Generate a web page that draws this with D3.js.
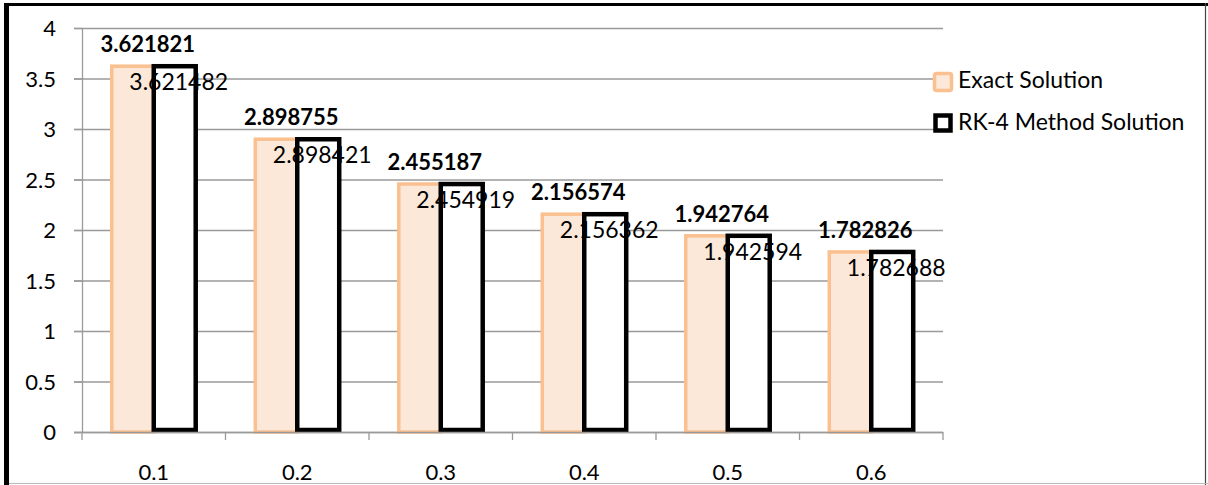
<!DOCTYPE html>
<html>
<head>
<meta charset="utf-8">
<script src="https://cdn.jsdelivr.net/npm/d3@7"></script>
<style>
  html, body { margin: 0; padding: 0; background: #fff; }
  svg { display: block; }
  text { font-family: Lato, "Open Sans", "Liberation Sans", sans-serif; fill: #000; }
</style>
</head>
<body>
<svg id="chart" width="1208" height="485"></svg>
<script>
// x categories (step size h)
const xLabels = ["0.1", "0.2", "0.3", "0.4", "0.5", "0.6"];
// exact solution values
const exactValues = [3.621821, 2.898755, 2.455187, 2.156574, 1.942764, 1.782826];
// RK-4 method solution values
const rk4Values = [3.621482, 2.898421, 2.454919, 2.156362, 1.942594, 1.782688];
// y axis tick values
const yTicks = [0, 0.5, 1, 1.5, 2, 2.5, 3, 3.5, 4];
// series names
const seriesNames = ["Exact Solution", "RK-4 Method Solution"];

const W = 1208, H = 485;
const plot = { left: 82, right: 943, top: 28, bottom: 432 };
const gridColor = "#9a9a9a";
const exactFill = "#fce8d9", exactStroke = "#fac090";

const svg = d3.select("#chart");

const x = d3.scaleBand().domain(xLabels).range([plot.left, plot.right]).paddingInner(0).paddingOuter(0);
const xs = d3.scaleBand().domain(seriesNames).range([0, x.bandwidth()]).paddingInner(0).paddingOuter(0.71);
const y = d3.scaleLinear().domain([0, 4]).range([plot.bottom, plot.top]);

// frame
svg.append("rect").attr("x", 4).attr("y", 3).attr("width", 5).attr("height", H - 3).attr("fill", "#000");
svg.append("rect").attr("x", 4).attr("y", 3).attr("width", W - 4).attr("height", 3).attr("fill", "#000");
svg.append("line").attr("x1", 1205.5).attr("x2", 1205.5).attr("y1", 3).attr("y2", H).attr("stroke", "#444").attr("stroke-width", 1.2);
svg.append("line").attr("x1", 9).attr("x2", W).attr("y1", 483.5).attr("y2", 483.5).attr("stroke", "#bbb").attr("stroke-width", 1);

// horizontal gridlines
const grid = svg.append("g")
  .attr("transform", `translate(${plot.left - 8},0)`)
  .call(d3.axisLeft(y).tickValues(yTicks).tickSizeInner(-(plot.right - plot.left + 8)).tickSizeOuter(0).tickFormat(""));
grid.select(".domain").remove();
grid.selectAll("line").attr("stroke", gridColor).attr("stroke-width", 1.3);

// bars
const rows = xLabels.map((c, i) => ({ cat: c, exact: exactValues[i], rk4: rk4Values[i] }));
const groups = svg.append("g").selectAll("g").data(rows).join("g")
  .attr("transform", d => `translate(${x(d.cat)},0)`);

groups.append("rect")
  .attr("x", xs(seriesNames[0]))
  .attr("y", d => y(d.exact))
  .attr("width", xs.bandwidth())
  .attr("height", d => y(0) - y(d.exact))
  .attr("fill", exactFill).attr("stroke", exactStroke).attr("stroke-width", 3.5);

groups.append("rect")
  .attr("x", xs(seriesNames[1]))
  .attr("y", d => y(d.rk4))
  .attr("width", xs.bandwidth())
  .attr("height", d => y(0) - y(d.rk4) - 2)
  .attr("fill", "#fff").attr("stroke", "#000").attr("stroke-width", 4.5);

// y axis
const yAxis = svg.append("g")
  .attr("transform", `translate(${plot.left},0)`)
  .call(d3.axisLeft(y).tickValues(yTicks).tickSizeInner(8).tickSizeOuter(0).tickPadding(18).tickFormat(d3.format("")));
yAxis.select(".domain").attr("stroke", gridColor).attr("stroke-width", 1.3);
yAxis.selectAll(".tick line").attr("stroke", gridColor).attr("stroke-width", 1.3);
yAxis.selectAll(".tick text")
  .attr("font-size", 22).attr("font-family", null).attr("dy", "0.36em");

// x axis
const xAxis = svg.append("g")
  .attr("transform", `translate(0,${plot.bottom})`)
  .call(d3.axisBottom(x).tickSize(0).tickPadding(32));
xAxis.select(".domain").attr("stroke", gridColor).attr("stroke-width", 1.3)
  .attr("d", `M${plot.left - 8},0.5H${plot.right}`);
xAxis.selectAll(".tick text")
  .attr("font-size", 22).attr("font-family", null);
// category boundary tick marks
xAxis.append("g").selectAll("line").data([...xLabels.map(c => x(c)), plot.right]).join("line")
  .attr("x1", d => d).attr("x2", d => d).attr("y1", 0).attr("y2", 8)
  .attr("stroke", gridColor).attr("stroke-width", 1.3);

// value labels
const fmt = d3.format(".6f");
groups.append("text")
  .attr("x", xs(seriesNames[0]) + xs.bandwidth() / 2 + 15)
  .attr("y", d => y(d.exact) - 14)
  .attr("text-anchor", "middle").attr("font-size", 22).attr("font-weight", "bold")
  .text(d => fmt(d.exact));
groups.append("text")
  .attr("x", xs(seriesNames[1]) + xs.bandwidth() / 2 + 4)
  .attr("y", d => y(d.rk4) + 24)
  .attr("text-anchor", "middle").attr("font-size", 23)
  .text(d => fmt(d.rk4));

// legend
const legend = svg.append("g");
legend.append("rect").attr("x", 934.5).attr("y", 73.5).attr("width", 17).attr("height", 17).attr("rx", 2)
  .attr("fill", exactFill).attr("stroke", exactStroke).attr("stroke-width", 3.5);
legend.append("rect").attr("x", 935.5).attr("y", 115.5).attr("width", 15).attr("height", 15)
  .attr("fill", "#fff").attr("stroke", "#000").attr("stroke-width", 4.5);
legend.selectAll("text").data(seriesNames).join("text")
  .attr("x", 958).attr("y", (d, i) => 88 + i * 42)
  .attr("font-size", 23).text(d => d);
</script>
</body>
</html>
